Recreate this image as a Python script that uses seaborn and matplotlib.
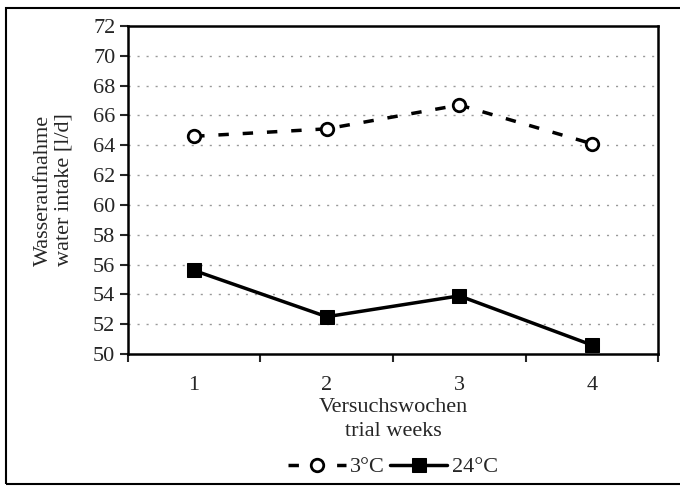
import numpy as np
import pandas as pd
import matplotlib
matplotlib.use("Agg")
import matplotlib.pyplot as plt
import seaborn as sns
from matplotlib.patches import Rectangle

# values
weeks = [1, 2, 3, 4]
intake_3c = [64.6, 65.1, 66.7, 64.1]
intake_24c = [55.6, 52.5, 53.9, 50.6]
y_ticks = list(range(50, 73, 2))

sns.set_style("white")
plt.rcParams['font.family'] = ['Liberation Serif', 'DejaVu Serif']

df = pd.DataFrame({
    'week': weeks * 2,
    'intake': intake_3c + intake_24c,
    'temp': ['3°C'] * 4 + ['24°C'] * 4,
})

fig = plt.figure(figsize=(6.8, 4.86), dpi=100)
ax = fig.add_axes([0.188, 0.2716, 0.78, 0.675])

# outer frame
fig.patches.append(Rectangle((6 / 680, 2 / 486), 1.2, 476 / 486, transform=fig.transFigure,
                             fill=False, edgecolor='black', linewidth=1.5, zorder=0))

for y in y_ticks[1:-1]:
    ax.axhline(y, color='#999999', linestyle=(0, (1.5, 5)), linewidth=1, zorder=0)

sns.lineplot(data=df[df.temp == '3°C'], x='week', y='intake', ax=ax, color='black',
             linestyle=(0, (3, 4)), linewidth=2.5, marker='o', markersize=9,
             markerfacecolor='white', markeredgecolor='black', markeredgewidth=2,
             label='3°C')
sns.lineplot(data=df[df.temp == '24°C'], x='week', y='intake', ax=ax, color='black',
             linestyle='-', linewidth=2.5, marker='s', markersize=10,
             markerfacecolor='black', markeredgecolor='black', label='24°C')

ax.set_xlim(0.5, 4.5)
ax.set_ylim(50, 72)
ax.set_yticks(y_ticks)
ax.set_xticks(weeks)
ax.set_xticks([0.5, 1.5, 2.5, 3.5, 4.5], minor=True)
ax.tick_params(axis='x', which='major', length=0, labelsize=16, pad=16)
ax.tick_params(axis='x', which='minor', length=6, width=1.5, direction='out', bottom=True)
ax.tick_params(axis='y', length=6, width=1.5, direction='out', left=True, labelsize=16, pad=3)

for s in ax.spines.values():
    s.set_color('black')
    s.set_linewidth(1.8)

ax.set_xlabel('Versuchswochen\ntrial weeks', fontsize=16, linespacing=1.35, labelpad=2)
ax.set_ylabel('Wasseraufnahme\nwater intake [l/d]', fontsize=16, linespacing=1.1, labelpad=14)

ax.legend(loc='center', bbox_to_anchor=(0.5, -0.345), ncol=2, frameon=False,
          fontsize=16, handlelength=2.6, columnspacing=0.2, handletextpad=0.2,
          borderpad=0)

fig.savefig('out.png', dpi=100)
